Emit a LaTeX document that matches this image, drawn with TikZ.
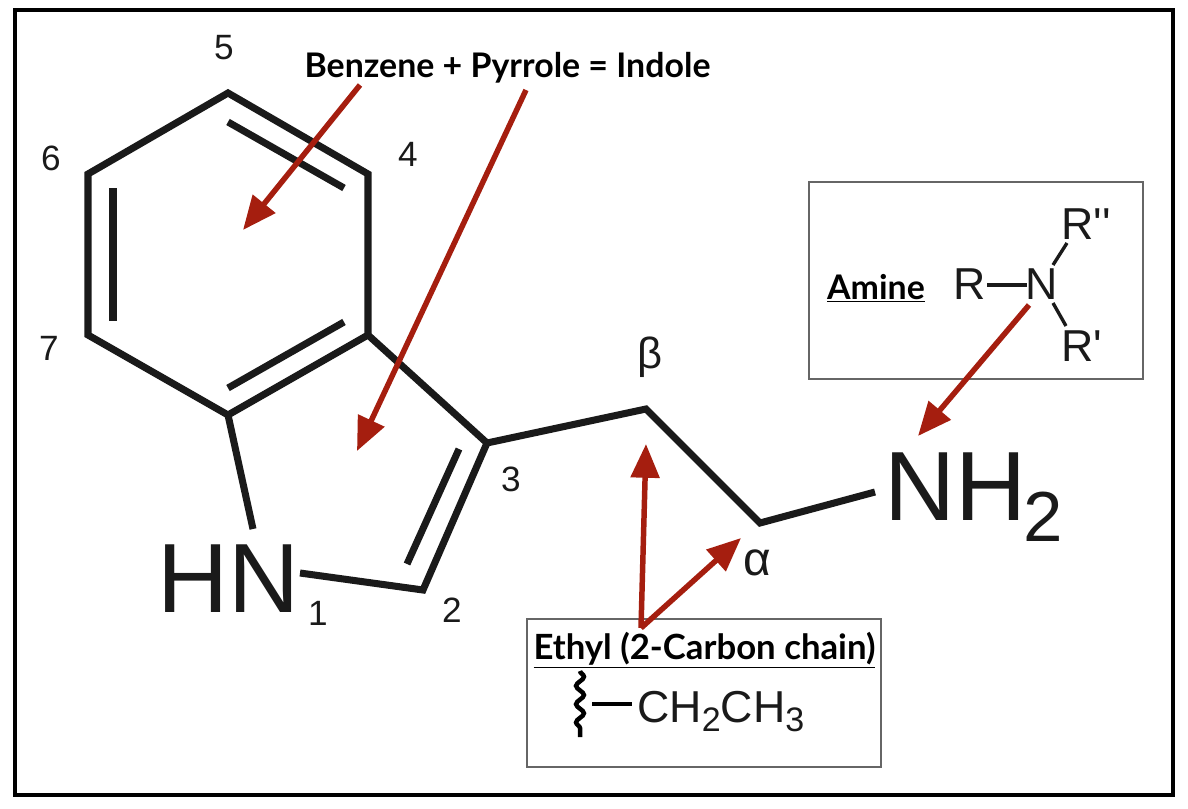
\documentclass[tikz,border=0pt]{standalone}
\usepackage{fontspec}
\setmainfont{Liberation Sans}
\newfontfamily\headfont{Lato}
\usetikzlibrary{arrows.meta,decorations.pathmorphing}
\newcommand{\subnum}[1]{\raisebox{-.22em}{\scalebox{.72}{#1}}}
\newcommand{\sidenum}[1]{\raisebox{-.22em}{\scalebox{.76}{#1}}}
\tikzset{
  bond/.style={line width=5pt,color=inkblack,line join=miter},
  thinbond/.style={line width=2.4pt,color=inkblack},
  pointer/.style={line width=3.9pt,color=arrowred,-{Triangle[length=24pt,width=20pt]}},
  framebox/.style={line width=1.1pt,color=boxgray},
  atom/.style={anchor=base,inner sep=0pt,color=inkblack,font=\fontsize{70}{80}\selectfont},
  locant/.style={anchor=base,inner sep=0pt,color=inkblack,font=\fontsize{25}{30}\selectfont},
  greek/.style={anchor=base,inner sep=0pt,color=inkblack,font=\fontsize{31}{40}\selectfont},
  sidetext/.style={anchor=base,inner sep=0pt,color=inkblack,font=\fontsize{31.8}{36}\selectfont},
  heading/.style={anchor=base,inner sep=0pt,font=\headfont\bfseries\fontsize{24.1}{28}\selectfont},
}
\definecolor{inkblack}{HTML}{1A1A1A}
\definecolor{arrowred}{HTML}{A51E0F}
\definecolor{boxgray}{HTML}{666666}
\begin{document}
\begin{tikzpicture}[x=0.025cm,y=-0.025cm]
\useasboundingbox (0,0) rectangle (1188,808);
\draw [line width=2.2pt,black] (15,10) rectangle (1173,795);
\draw [framebox] (809,182) rectangle (1143,379);
\draw [framebox] (527,619) rectangle (881,767);

% ring atoms
\coordinate (c5) at (228,93);
\coordinate (c4) at (368,174);
\coordinate (c6) at (88,174);
\coordinate (c7) at (88,335);
\coordinate (c3a) at (368,335);
\coordinate (c7a) at (228,415);
\coordinate (c3) at (487,443);
\coordinate (c2) at (423,590);
\coordinate (cb) at (646,409);
\coordinate (ca) at (760,523);
\coordinate (nleft) at (253,529);
\coordinate (nright) at (300,573);
\coordinate (nhtwo) at (875,492);

\draw [bond] (c3a) -- (c4) -- (c5) -- (c6) -- (c7) -- (c7a) -- (c3a) -- (c3);
\draw [bond] (c7a) -- (nleft);
\draw [bond] (nright) -- (c2) -- (c3) -- (cb) -- (ca) -- (nhtwo);

% inner double bonds
\coordinate (d1a) at (228,122);
\coordinate (d1b) at (344,188);
\coordinate (d2a) at (113,188);
\coordinate (d2b) at (113,321);
\coordinate (d3a) at (228,388);
\coordinate (d3b) at (344,322);
\coordinate (d4a) at (407,564);
\coordinate (d4b) at (459,449);
\draw [bond] (d1a) -- (d1b);
\draw [bond] (d2a) -- (d2b);
\draw [bond] (d3a) -- (d3b);
\draw [bond] (d4a) -- (d4b);

\node [atom] (hn) at (229,612) {HN};
\node [atom,anchor=base west] (nh) at (884,520) {NH\kern-2pt\subnum{2}};

\node [locant] (n5) at (224,60) {5};
\node [locant] (n6) at (51,170) {6};
\node [locant] (n4) at (408,166) {4};
\node [locant] (n7) at (49,360) {7};
\node [locant] (n3) at (511,491) {3};
\node [locant] (n1) at (318,625) {1};
\node [locant] (n2) at (452,622) {2};
\node [greek] (beta) at (650,368) {β};
\node [greek,font=\fontsize{34}{40}\selectfont] (alpha) at (757,575) {α};

\node [heading] (title) at (507.5,77) {Benzene + Pyrrole = Indole};
\node [heading] (amine) at (876,299) {\underline{Amine}};
\node [heading,font=\headfont\bfseries\fontsize{24.7}{28}\selectfont] (ethyl) at (704.5,659) {\underline{Ethyl (2-Carbon chain)}};

% amine box
\node [sidetext] (r) at (970,299) {R};
\node [sidetext] (n) at (1042,299) {N};
\node [sidetext,anchor=base west] (rtwo) at (1061,239) {R\textquotesingle\textquotesingle};
\node [sidetext,anchor=base west] (rone) at (1061,361) {R\textquotesingle};
\coordinate (rb1) at (987,285);
\coordinate (rb2) at (1027,285);
\coordinate (rb3) at (1053,265);
\coordinate (rb4) at (1067,243);
\coordinate (rb5) at (1053,303);
\coordinate (rb6) at (1066,326);
\draw [thinbond] (rb1) -- (rb2);
\draw [thinbond] (rb3) -- (rb4);
\draw [thinbond] (rb5) -- (rb6);

% ethyl box
\node [sidetext,anchor=base west] (chain) at (637,722) {CH\sidenum{2}CH\sidenum{3}};
\coordinate (wavy1) at (580,671);
\coordinate (wavy2) at (580,737);
\coordinate (dash1) at (592,704);
\coordinate (dash2) at (632,704);
\draw [line width=3.2pt,black,decorate,decoration={snake,amplitude=2.8pt,segment length=13pt}] (wavy1) -- (wavy2);
\draw [line width=3.2pt,black] (dash1) -- (dash2);

% pointers
\coordinate (pa1) at (360,85);
\coordinate (pa2) at (243,230);
\coordinate (pb1) at (526,90);
\coordinate (pb2) at (357,451);
\coordinate (pc1) at (641,628);
\coordinate (pc2) at (646,444);
\coordinate (pd2) at (741,538);
\coordinate (pe1) at (1029,305);
\coordinate (pe2) at (918,436);
\draw [pointer] (pa1) -- (pa2);
\draw [pointer] (pb1) -- (pb2);
\draw [pointer] (pc1) -- (pc2);
\draw [pointer] (pc1) -- (pd2);
\draw [pointer] (pe1) -- (pe2);
\end{tikzpicture}
\end{document}
